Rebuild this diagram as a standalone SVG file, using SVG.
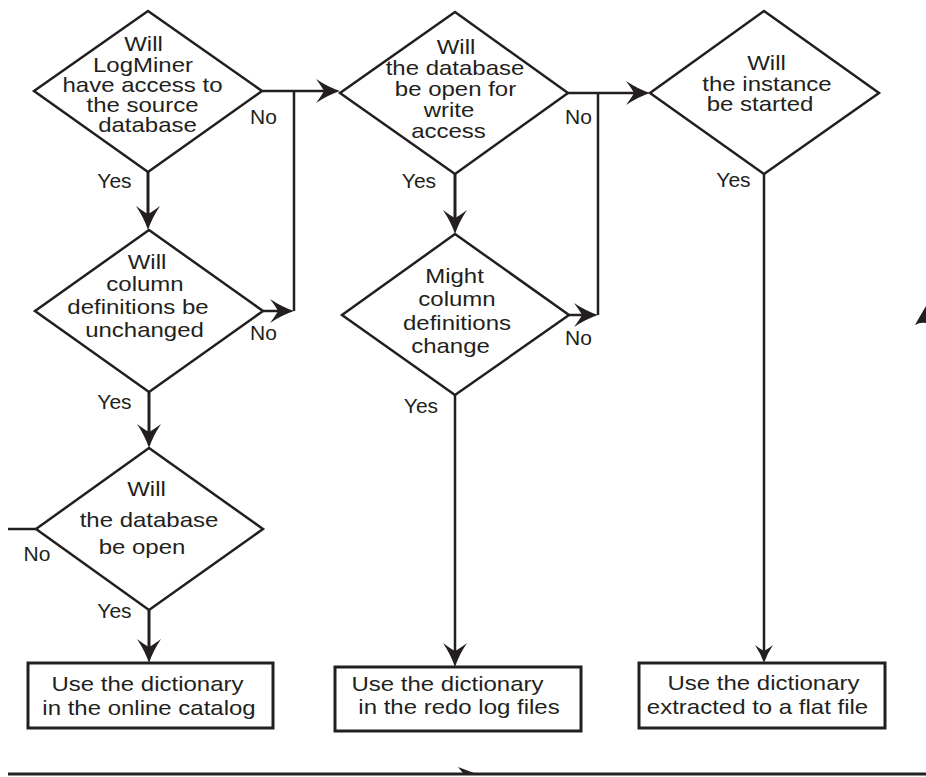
<svg xmlns="http://www.w3.org/2000/svg" width="926" height="777" viewBox="0 0 926 777">
<style>
  .shape { fill: #ffffff; stroke: #231f20; stroke-width: 2.5; stroke-linejoin: miter; }
  .box { fill: #ffffff; stroke: #231f20; stroke-width: 3; }
  .t { font-family: "Liberation Sans", Arial, Helvetica, sans-serif; font-size: 20px; fill: #231f20; text-anchor: middle; }
  .lbl { font-family: "Liberation Sans", Arial, Helvetica, sans-serif; font-size: 21px; fill: #231f20; text-anchor: middle; }
  .ln { fill: none; stroke: #231f20; stroke-width: 2.5; }
  .thick { stroke-width: 3; }
  .arr { marker-end: url(#ah); }
  .arrs { marker-end: url(#ahs); }
</style>
<defs>
  <marker id="ah" markerUnits="userSpaceOnUse" markerWidth="24" markerHeight="24" viewBox="0 0 24 24" refX="8" refY="12" orient="auto">
    <path d="M24,12 Q12,8 0,0 Q6,8 8,12 Q6,16 0,24 Q12,16 24,12 Z" fill="#231f20"/>
  </marker>
  <marker id="ahs" markerUnits="userSpaceOnUse" markerWidth="18" markerHeight="18" viewBox="0 0 24 24" refX="8" refY="12" orient="auto">
    <path d="M24,12 Q12,8 0,0 Q6,8 8,12 Q6,16 0,24 Q12,16 24,12 Z" fill="#231f20"/>
  </marker>
</defs>
<rect width="926" height="777" fill="#ffffff"/>

<g id="connectors">
  <!-- D1 -> D4 (No) -->
  <path class="ln arr" d="M262,91 L324,91"/>
  <path class="ln" d="M294,91 L294,311"/>
  <!-- D2 No -> merge -->
  <path class="ln arr" d="M263,311 L278,311"/>
  <!-- D1 Yes -> D2 -->
  <path class="ln thick arr" d="M148,172 L148,214"/>
  <!-- D2 Yes -> D3 -->
  <path class="ln thick arr" d="M149,392 L149,432"/>
  <!-- D3 Yes -> B1 -->
  <path class="ln thick arr" d="M149,610 L149,647"/>
  <!-- D3 No -> left -->
  <path class="ln" d="M36,529 L8,529"/>
  <!-- D4 -> D6 (No) -->
  <path class="ln arr" d="M568,93 L634,93"/>
  <path class="ln" d="M598,93 L598,315"/>
  <!-- D5 No -> merge -->
  <path class="ln arr" d="M569,315 L582,315"/>
  <!-- D4 Yes -> D5 -->
  <path class="ln thick arr" d="M455,174 L455,218"/>
  <!-- D5 Yes -> B2 -->
  <path class="ln arr" d="M455,395 L455,651"/>
  <!-- D6 Yes -> B3 -->
  <path class="ln arrs" d="M764,174 L764,651"/>
  <!-- bottom line -->
  <path class="ln thick" d="M8,774 L926,774"/>
  <path d="M458,767 L474,773 L463,773 Z" fill="#231f20"/>
  <path d="M915,325 Q920,316 926,306 L926,323 Q920,322 915,325 Z" fill="#231f20"/>
  <!-- labels -->
  <text class="lbl" x="263.5" y="124">No</text>
  <text class="lbl" x="114.5" y="188">Yes</text>
  <text class="lbl" x="263.5" y="340">No</text>
  <text class="lbl" x="114.5" y="409">Yes</text>
  <text class="lbl" x="37" y="561">No</text>
  <text class="lbl" x="114.5" y="618">Yes</text>
  <text class="lbl" x="578.5" y="124">No</text>
  <text class="lbl" x="419" y="188">Yes</text>
  <text class="lbl" x="578.5" y="345">No</text>
  <text class="lbl" x="421" y="413">Yes</text>
  <text class="lbl" x="733.5" y="187">Yes</text>
</g>

<g id="d1">
  <polygon class="shape" points="148,11 262,91 148,172 34,91"/>
  <text class="t" transform="matrix(1.2,0,0,1,143.5,51)">Will</text>
  <text class="t" transform="matrix(1.2,0,0,1,143,71.5)">LogMiner</text>
  <text class="t" transform="matrix(1.2,0,0,1,142.5,92)">have access to</text>
  <text class="t" transform="matrix(1.2,0,0,1,142.5,112)">the source</text>
  <text class="t" transform="matrix(1.2,0,0,1,147.5,132)">database</text>
</g>

<g id="d2">
  <polygon class="shape" points="149,230 263,311 149,392 35,311"/>
  <text class="t" transform="matrix(1.2,0,0,1,147,269)">Will</text>
  <text class="t" transform="matrix(1.2,0,0,1,145,291)">column</text>
  <text class="t" transform="matrix(1.2,0,0,1,138,314)">definitions be</text>
  <text class="t" transform="matrix(1.2,0,0,1,144.5,337)">unchanged</text>
</g>

<g id="d3">
  <polygon class="shape" points="149,448 263,529 149,610 36,529"/>
  <text class="t" transform="matrix(1.2,0,0,1,146.5,496)">Will</text>
  <text class="t" transform="matrix(1.2,0,0,1,149,527)">the database</text>
  <text class="t" transform="matrix(1.2,0,0,1,142,554)">be open</text>
</g>

<g id="d4">
  <polygon class="shape" points="455,12 568,93 455,174 340,93"/>
  <text class="t" transform="matrix(1.2,0,0,1,456,54)">Will</text>
  <text class="t" transform="matrix(1.2,0,0,1,455,75)">the database</text>
  <text class="t" transform="matrix(1.2,0,0,1,455.5,96)">be open for</text>
  <text class="t" transform="matrix(1.2,0,0,1,449,117)">write</text>
  <text class="t" transform="matrix(1.2,0,0,1,448.5,138)">access</text>
</g>

<g id="d5">
  <polygon class="shape" points="455,234 569,315 455,395 342,315"/>
  <text class="t" transform="matrix(1.2,0,0,1,454.5,283)">Might</text>
  <text class="t" transform="matrix(1.2,0,0,1,457,306)">column</text>
  <text class="t" transform="matrix(1.2,0,0,1,457,330)">definitions</text>
  <text class="t" transform="matrix(1.2,0,0,1,450.5,353)">change</text>
</g>

<g id="d6">
  <polygon class="shape" points="764,11 879,93 764,174 650,93"/>
  <text class="t" transform="matrix(1.2,0,0,1,766.5,70)">Will</text>
  <text class="t" transform="matrix(1.2,0,0,1,767,91)">the instance</text>
  <text class="t" transform="matrix(1.2,0,0,1,760,111)">be started</text>
</g>

<g id="b1">
  <rect class="box" x="28" y="663" width="245" height="65"/>
  <text class="t" transform="matrix(1.2,0,0,1,147.5,690.5)">Use the dictionary</text>
  <text class="t" transform="matrix(1.2,0,0,1,149,715)">in the online catalog</text>
</g>

<g id="b2">
  <rect class="box" x="335" y="667" width="246" height="64"/>
  <text class="t" transform="matrix(1.2,0,0,1,447.5,690.5)">Use the dictionary</text>
  <text class="t" transform="matrix(1.2,0,0,1,459,714)">in the redo log files</text>
</g>

<g id="b3">
  <rect class="box" x="639" y="663" width="246" height="65"/>
  <text class="t" transform="matrix(1.2,0,0,1,763.5,690)">Use the dictionary</text>
  <text class="t" transform="matrix(1.2,0,0,1,757.5,714)">extracted to a flat file</text>
</g>
</svg>
